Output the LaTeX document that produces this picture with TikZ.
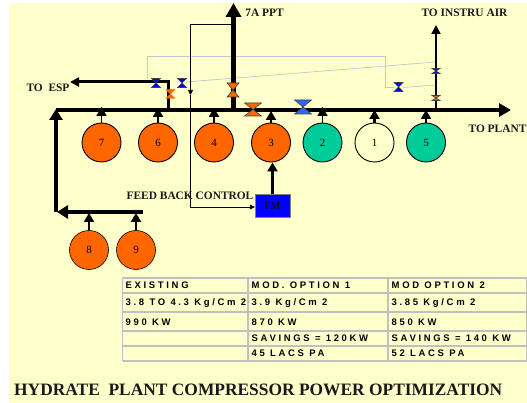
\documentclass[tikz,border=0pt]{standalone}
\usepackage{fontspec}
\setmainfont{Liberation Serif}
\newfontfamily\tablefont[LetterSpace=28]{Liberation Sans}
\usepackage{xcolor}
\usetikzlibrary{arrows.meta, positioning, calc}

\definecolor{paleyellow}{HTML}{FFFFCC}
\definecolor{comporange}{HTML}{FF6600}
\definecolor{compgreen}{HTML}{00CC99}
\definecolor{valveblue}{HTML}{3366FF}
\definecolor{gridgray}{HTML}{C0C0C0}
\definecolor{signalgray}{HTML}{C4C4D4}

\tikzset{
    comp/.style={circle, draw=black, line width=0.9pt, minimum size=39pt, inner sep=0pt, font=\fontsize{11}{11}\selectfont},
    tag/.style={font=\fontsize{11.4}{12}\selectfont\bfseries, inner sep=0pt, text=black!90},
    cell/.style={anchor=west, inner sep=0pt, font=\tablefont\fontsize{9.5}{10}\selectfont\bfseries},
    stem/.style={line width=2.6pt, -{Triangle[width=10pt,length=9pt]}},
    grid/.style={gridgray, line width=1.6pt},
    signal/.style={signalgray, line width=0.7pt}
}

% x y half-width half-height fill
\newcommand{\valvesym}[5]{
    \draw[fill=#5, draw=black!75, line width=0.6pt]
        (#1-#3,#2-#4) -- (#1+#3,#2-#4) -- (#1-#3,#2+#4) -- (#1+#3,#2+#4) -- cycle;
}

\begin{document}
\begin{tikzpicture}[x=1pt, y=-1pt]
\useasboundingbox (0,0) rectangle (527,403);
\fill[white] (0,0) rectangle (527,403);
\fill[paleyellow] (9,3) rectangle (527,403);

% Signal lines
\draw[signal] (147.5,79) -- (147.5,56.5) -- (385.5,56.5) -- (385.5,87.5) -- (394,87.5);
\draw[signal] (403,87.5) -- (436,85);
\draw[signal] (186,82) -- (436,62);

% Header ends
\coordinate (mainL) at (56,110);
\coordinate (mainR) at (511,110);
\coordinate (pptBase) at (233.5,110);
\coordinate (pptTop) at (233.5,3);
\coordinate (espBase) at (168,110);
\coordinate (espKnee) at (168,82);
\coordinate (espEnd) at (70,82);
\coordinate (airBase) at (436,112);
\coordinate (airTop) at (436,25);
\coordinate (lowR) at (143,212);
\coordinate (lowL) at (57,212);
\coordinate (lowUp) at (56,212);
\coordinate (fbStart) at (232,24.5);
\coordinate (fbCorner) at (190.5,24.5);
\coordinate (fbArrow) at (190.5,95);
\coordinate (fbLow) at (190.5,207);

% Compressors
\node[comp, fill=comporange] (c7) at (101.5,142.5) {7};
\node[comp, fill=comporange] (c6) at (158,142.5) {6};
\node[comp, fill=comporange] (c4) at (214,142.5) {4};
\node[comp, fill=comporange] (c3) at (271,142.5) {3};
\node[comp, fill=compgreen] (c2) at (322.5,142.5) {2};
\node[comp, fill=paleyellow] (c1) at (374.5,142.5) {1};
\node[comp, fill=compgreen] (c5) at (426,142.5) {5};
\node[comp, fill=comporange, line width=0.6pt] (c8) at (89,250) {8};
\node[comp, fill=comporange, line width=0.6pt] (c9) at (136,250) {9};

% Flow meter
\node[draw=black!50, fill=blue, minimum width=35pt, minimum height=23pt, inner sep=0pt,
    font=\fontsize{11}{11}\selectfont] (fm) at (272.5,205.5) {FM};

% Main lines
\draw[line width=4pt, -{Triangle[width=13pt,length=12pt]}] (mainL) -- (mainR);
\draw[line width=4pt, -{Triangle[width=13pt,length=11pt]}] (lowUp) -- ([yshift=1pt]mainL);
\draw[line width=4pt, -{Triangle[width=13pt,length=11pt]}] (lowR) -- (lowL);
\draw[line width=5pt, -{Triangle[width=15pt,length=14pt]}] (pptBase) -- (pptTop);
\draw[line width=3pt, -{Triangle[width=9pt,length=9pt]}] (espBase) -- (espKnee) -- (espEnd);
\draw[line width=2pt, -{Triangle[width=9pt,length=9pt]}] (airBase) -- (airTop);

% Compressor outlets
\draw[stem, line width=1.6pt] (c7.north) -- (c7.north |- 0,107);
\draw[stem] (c6.north) -- (c6.north |- 0,108);
\draw[stem] (c4.north) -- (c4.north |- 0,108);
\draw[stem] (c3.north) -- (c3.north |- 0,111);
\draw[stem, line width=1.6pt] (c2.north) -- (c2.north |- 0,107);
\draw[stem] (c1.north) -- (c1.north |- 0,110);
\draw[stem] (c5.north) -- (c5.north |- 0,110);
\draw[stem] (c8.north) -- (c8.north |- 0,213);
\draw[stem] (c9.north) -- (c9.north |- 0,213);
\draw[stem, line width=3pt] (fm.north) -- (fm.north |- c3.south);

% Feed back line
\draw[line width=0.7pt, -{Triangle[width=5pt,length=5pt]}] (fbStart) -- (fbCorner) -- (fbArrow);
\draw[line width=0.7pt, -{Triangle[width=5pt,length=5pt]}] (fbArrow) -- (fbLow) -- (fbLow -| fm.west);

% Valves
\valvesym{156}{83}{4.5}{4.5}{blue}
\valvesym{182}{83}{4.5}{4.5}{blue}
\valvesym{398.5}{87}{4.5}{4.5}{blue}
\valvesym{436}{71}{4}{2.5}{blue}
\valvesym{436}{98}{4}{2.5}{comporange}
\valvesym{233}{90}{6}{7}{comporange}
\valvesym{253}{109.5}{8.5}{6.5}{comporange}
\valvesym{303}{107}{8.5}{7}{valveblue}
\draw[fill=comporange, draw=comporange, line width=0.4pt]
    (166,89.5) -- (175,89.5) -- (166,98.5) -- (175,98.5) -- cycle;

% Labels
\node[tag] (ppt) at (264.5,13) {7A PPT};
\node[tag] (air) at (464.5,13) {TO INSTRU AIR};
\node[tag] (esp) at (48,88) {TO\ \ ESP};
\node[tag] (plant) at (497.5,129) {TO PLANT};
\node[tag] (feedback) at (190,196) {FEED BACK CONTROL};

% Table
\foreach \y in {278,293,312,331,346,361}
    \draw[grid] (122.5,\y) -- (527,\y);
\foreach \x in {122.5,248,388,526.5}
    \draw[grid] (\x,278) -- (\x,361);

\node[cell] (h1) at (125.5,285) {EXISTING};
\node[cell] (h2) at (251.5,285) {MOD. OPTION 1};
\node[cell] (h3) at (391.5,285) {MOD OPTION 2};
\node[cell] (p1) at (125.5,303.5) {3.8 TO 4.3 Kg/Cm 2};
\node[cell] (p2) at (251.5,303.5) {3.9 Kg/Cm 2};
\node[cell] (p3) at (391.5,303.5) {3.85 Kg/Cm 2};
\node[cell] (k1) at (125.5,322) {990 KW};
\node[cell] (k2) at (251.5,322) {870 KW};
\node[cell] (k3) at (391.5,322) {850 KW};
\node[cell] (s2) at (251.5,338) {SAVINGS = 120KW};
\node[cell] (s3) at (391.5,338) {SAVINGS = 140 KW};
\node[cell] (l2) at (251.5,353) {45 LACS PA};
\node[cell] (l3) at (391.5,353) {52 LACS PA};

% Title
\node[anchor=west, inner sep=0pt, font=\fontsize{17.4}{18}\selectfont\bfseries, text=black!90]
    (title) at (14,390) {HYDRATE\ \ PLANT COMPRESSOR POWER OPTIMIZATION};
\end{tikzpicture}
\end{document}
